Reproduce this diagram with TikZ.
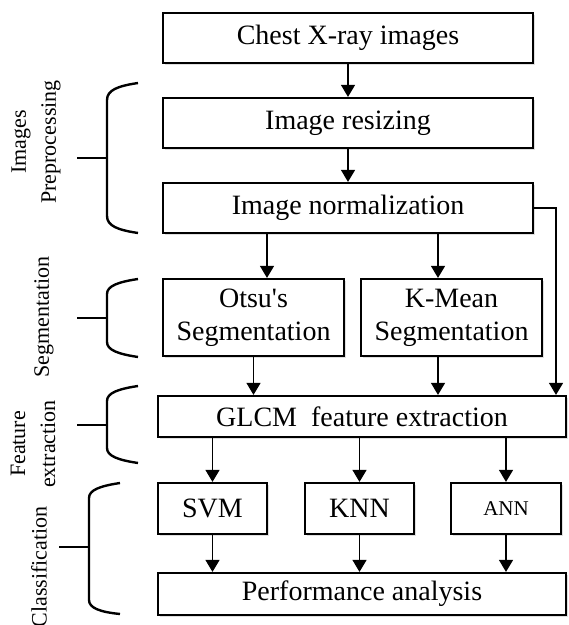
\documentclass[tikz,border=0pt]{standalone}
\usepackage{fontspec}
\setmainfont{Liberation Serif}[Ligatures=TeXOff]
\usetikzlibrary{arrows.meta, shadows}

\begin{document}
\begin{tikzpicture}[x=0.5pt, y=-0.5pt,
    box/.style={draw, line width=1.1pt, fill=white, inner sep=0pt, align=center,
      font=\fontsize{14}{16.5}\selectfont,
      drop shadow={shadow xshift=1pt, shadow yshift=-1pt, opacity=0.25}},
    arr/.style={draw, line width=0.6pt, -{Triangle[length=6pt, width=7pt]}},
    brace/.style={draw, line width=1.2pt},
    side/.style={rotate=90, align=center, font=\fontsize{11}{15}\selectfont}]

    \useasboundingbox (0, 0) rectangle (568, 625);

    \node[box, minimum width=185pt, minimum height=25pt] (chest) at (348, 38) {Chest X-ray images};
    \node[box, minimum width=185pt, minimum height=25pt] (resize) at (348, 123) {Image resizing};
    \node[box, minimum width=185pt, minimum height=25pt] (norm) at (348, 208) {Image normalization};

    \node[box, minimum width=90.5pt, minimum height=38.5pt] (otsu) at (253.5, 317.5) {Otsu's\\Segmentation};
    \node[box, minimum width=90.5pt, minimum height=38.5pt] (kmean) at (451.5, 317.5) {K-Mean\\Segmentation};

    \node[box, minimum width=204pt, minimum height=20.5pt] (glcm) at (362, 416.5) {GLCM~~feature extraction};

    \node[box, minimum width=54.5pt, minimum height=25.5pt] (svm) at (212.5, 508.5) {SVM};
    \node[box, minimum width=54.5pt, minimum height=25.5pt] (knn) at (359.5, 508.5) {KNN};
    \node[box, minimum width=55pt, minimum height=25.5pt] (ann) at (506, 508.5) {\fontsize{10.5}{12}\selectfont ANN};

    \node[box, minimum width=204pt, minimum height=21pt] (perf) at (362, 594) {Performance analysis};

    \coordinate (nl) at (267, 0);
    \coordinate (nr) at (438, 0);
    \coordinate (byp) at (556, 208);

    \path[arr] (chest) to (resize);
    \path[arr] (resize) to (norm);
    \path[arr] (norm.south -| nl) to (otsu.north -| nl);
    \path[arr] (norm.south -| nr) to (kmean.north -| nr);
    \path[arr] (norm.east) -- (byp) -- (byp |- glcm.north);

    \path[arr] (otsu) to (otsu |- glcm.north);
    \path[arr] (kmean.south -| nr) to (glcm.north -| nr);

    \path[arr] (glcm.south -| svm) to (svm);
    \path[arr] (glcm.south -| knn) to (knn);
    \path[arr] (glcm.south -| ann) to (ann);

    \path[arr] (svm) to (svm |- perf.north);
    \path[arr] (knn) to (knn |- perf.north);
    \path[arr] (ann) to (ann |- perf.north);

    %braces

    \path[brace] (138, 83) .. controls (118, 86) and (107, 90) .. (107, 100)
      -- (107, 216) .. controls (107, 226) and (118, 230) .. (138, 233);
    \path[brace] (77, 158) -- (107, 158);

    \path[brace] (138, 279) .. controls (118, 282) and (107, 286) .. (107, 294)
      -- (107, 342) .. controls (107, 350) and (118, 354) .. (138, 357);
    \path[brace] (77, 318) -- (107, 318);

    \path[brace] (138, 386) .. controls (118, 389) and (107, 393) .. (107, 401)
      -- (107, 448) .. controls (107, 456) and (118, 460) .. (138, 463);
    \path[brace] (77, 425) -- (107, 425);

    \path[brace] (120, 483) .. controls (100, 486) and (89, 490) .. (89, 498)
      -- (89, 600) .. controls (89, 608) and (100, 612) .. (120, 614);
    \path[brace] (59, 547) -- (89, 547);

    \node[side] (lpre) at (36, 142) {Images\\Preprocessing};
    \node[side] (lseg) at (44, 317) {Segmentation};
    \node[side] (lfeat) at (33, 444) {Feature\\extraction};
    \node[side] (lcls) at (39, 567) {Classification};

  \end{tikzpicture}
\end{document}
